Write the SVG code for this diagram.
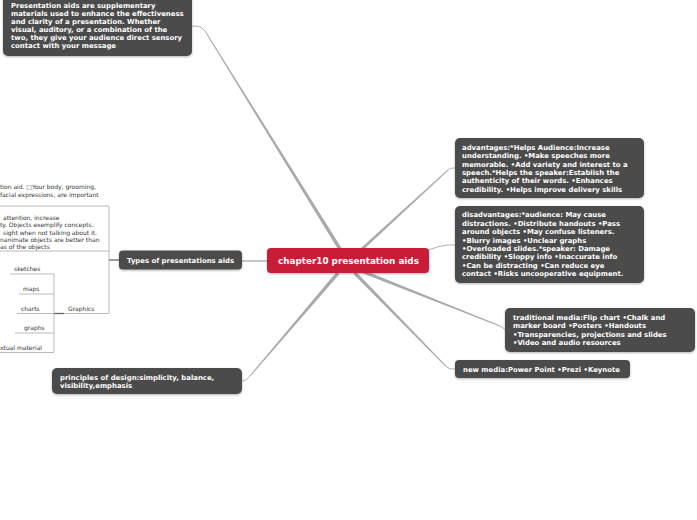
<svg xmlns="http://www.w3.org/2000/svg" width="697" height="520" viewBox="0 0 697 520">
<defs>
<filter id="sh" x="-10%" y="-20%" width="120%" height="150%">
<feDropShadow dx="0" dy="1" stdDeviation="1" flood-color="#000" flood-opacity="0.3"/>
</filter>
</defs>
<style>
.box{fill:#4b4b4b;filter:url(#sh)}
.root{fill:#c81e39;filter:url(#sh)}
.t{font-family:"DejaVu Sans",Verdana,sans-serif;font-weight:bold;font-size:6.9px;fill:#fff}
.rt{font-family:"DejaVu Sans",Verdana,sans-serif;font-weight:bold;font-size:8.8px;fill:#fff}
.s{font-family:"DejaVu Sans",Verdana,sans-serif;font-size:6px;fill:#333}
.c{fill:#a9a9a9}
.ln{fill:none;stroke:#a9a9a9;stroke-width:0.9}
.ul{fill:none;stroke:#aaa;stroke-width:0.8}
.st{fill:none;stroke:#666;stroke-width:1.3}
</style>
<rect width="697" height="520" fill="#fff"/>
<g id="connectors">
<path class="c" d="M341.5,248 L205.4,30.7 L204.6,31.3 L338.5,250 Z"/>
<path class="ln" d="M205,31 Q201.5,26 196,26 L192,26"/>
<path class="c" d="M361,247.9 L447.7,169.6 L448.3,170.4 L363,250.1 Z"/>
<path class="ln" d="M448,170 Q450,168 453,168 L455,168"/>
<path class="ln" d="M428,250 Q440,245.5 448,245 L455,245"/>
<path class="c" d="M364.4,270.4 L500.2,325.5 L499.8,326.5 L363.2,273.6 Z"/>
<path class="ln" d="M500,326 Q503,328 506,330"/>
<path class="c" d="M356,271.8 L446.4,366.1 L445.6,366.8 L353.6,274.2 Z"/>
<path class="ln" d="M446,366.5 Q449,369 452,369 L455,369"/>
<path class="c" d="M339.3,274.3 L250.4,376.3 L249.6,375.7 L336.7,271.7 Z"/>
<path class="ln" d="M250,376 Q247,381 242,381"/>
<path class="ln" d="M268,261 L242,261" style="stroke-width:1.3"/>
<path class="ul" d="M0,206 H109 V313.5 M0,251 H109 M64,313.5 H109"/>
<path class="st" d="M119,260 H109"/>
<path class="st" d="M54,313.5 H64"/>
<path class="ul" d="M54,274 V352.5 M10,274 H54 M19,294 H54 M17,313.5 H54 M15,333 H54 M0,352.5 H54"/>
</g>
<g id="node-intro">
<rect class="box" x="3" y="-6" width="189" height="62" rx="5"/>
<text class="t" x="11"><tspan x="11" y="8">Presentation aids are supplementary</tspan><tspan x="11" y="16">materials used to enhance the effectiveness</tspan><tspan x="11" y="24">and clarity of a presentation. Whether</tspan><tspan x="11" y="32">visual, auditory, or a combination of the</tspan><tspan x="11" y="40">two, they give your audience direct sensory</tspan><tspan x="11" y="48">contact with your message</tspan></text>
</g>
<g id="node-root">
<rect class="root" x="267" y="248" width="162" height="25" rx="4"/>
<text class="rt" x="348.5" y="264.3" text-anchor="middle">chapter10 presentation aids</text>
</g>
<g id="node-advantages">
<rect class="box" x="455" y="138" width="189" height="60" rx="5"/>
<text class="t"><tspan x="462" y="150">advantages:*Helps Audience:Increase</tspan><tspan x="462" y="158.3">understanding. •Make speeches more</tspan><tspan x="462" y="166.6">memorable. •Add variety and interest to a</tspan><tspan x="462" y="174.9">speech.*Helps the speaker:Establish the</tspan><tspan x="462" y="183.2">authenticity of their words. •Enhances</tspan><tspan x="462" y="191.5">credibility. •Helps improve delivery skills</tspan></text>
</g>
<g id="node-disadvantages">
<rect class="box" x="455" y="206" width="189" height="77" rx="5"/>
<text class="t"><tspan x="462" y="217.4">disadvantages:*audience: May cause</tspan><tspan x="462" y="225.8">distractions. •Distribute handouts •Pass</tspan><tspan x="462" y="234.2">around objects •May confuse listeners.</tspan><tspan x="462" y="242.6">•Blurry images •Unclear graphs</tspan><tspan x="462" y="251">•Overloaded slides.*speaker: Damage</tspan><tspan x="462" y="259.4">credibility •Sloppy info •Inaccurate info</tspan><tspan x="462" y="267.8">•Can be distracting •Can reduce eye</tspan><tspan x="462" y="276.2">contact •Risks uncooperative equipment.</tspan></text>
</g>
<g id="node-traditional">
<rect class="box" x="505" y="308" width="190" height="44" rx="5"/>
<text class="t"><tspan x="513" y="320">traditional media:Flip chart •Chalk and</tspan><tspan x="513" y="328.4">marker board •Posters •Handouts</tspan><tspan x="513" y="336.8">•Transparencies, projections and slides</tspan><tspan x="513" y="345.2">•Video and audio resources</tspan></text>
</g>
<g id="node-newmedia">
<rect class="box" x="455" y="360" width="175" height="18" rx="4"/>
<text class="t" x="463" y="371.6">new media:Power Point •Prezi •Keynote</text>
</g>
<g id="node-principles">
<rect class="box" x="52" y="368" width="190" height="26" rx="5"/>
<text class="t"><tspan x="60" y="379.6">principles of design:simplicity, balance,</tspan><tspan x="60" y="388.2">visibility,emphasis</tspan></text>
</g>
<g id="node-types">
<rect class="box" x="119" y="250.5" width="123" height="19" rx="4"/>
<text class="t" x="127" y="262.6">Types of presentations aids</text>
</g>
<g id="node-body">
<text class="s"><tspan x="0" y="189">tion aid. □Your body, grooming,</tspan><tspan x="0" y="196.5">facial expressions, are important</tspan></text>
</g>
<g id="node-objects">
<text class="s"><tspan x="3" y="220">attention, increase</tspan><tspan x="0" y="227.4">ty. Objects exemplify concepts.</tspan><tspan x="3" y="234.8">sight when not talking about it.</tspan><tspan x="0" y="242.2">nanimate objects are better than</tspan><tspan x="0" y="249.2">as of the objects</tspan></text>
</g>
<g id="node-graphics"><text class="s" x="68" y="310.5">Graphics</text></g>
<g id="node-sketches"><text class="s" x="14" y="271">sketches</text></g>
<g id="node-maps"><text class="s" x="23" y="291">maps</text></g>
<g id="node-charts"><text class="s" x="21" y="310.5">charts</text></g>
<g id="node-graphs"><text class="s" x="24" y="330">graphs</text></g>
<g id="node-textual"><text class="s" x="0" y="349.5">xtual material</text></g>
</svg>
